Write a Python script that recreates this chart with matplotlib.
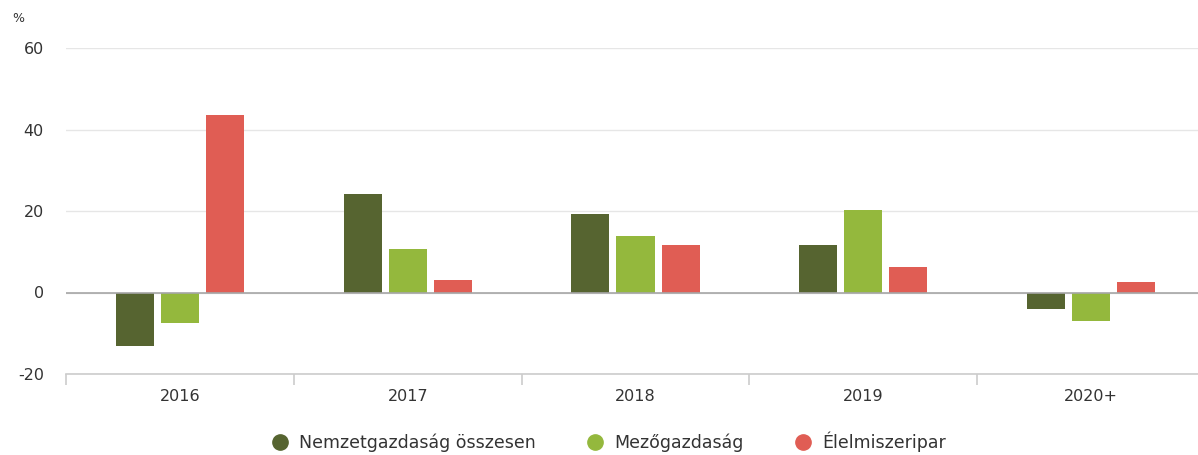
import numpy as np
import matplotlib
matplotlib.use("Agg")
import matplotlib.pyplot as plt
from matplotlib.lines import Line2D

# data
years = ["2016", "2017", "2018", "2019", "2020+"]
nemzetgazdasag = [-13.1, 24.1, 19.2, 11.6, -4.1]
mezogazdasag = [-7.6, 10.6, 13.8, 20.2, -6.9]
elelmiszeripar = [43.5, 3.0, 11.6, 6.2, 2.6]

series_names = ["Nemzetgazdaság összesen", "Mezőgazdaság", "Élelmiszeripar"]
colors = ["#566430", "#94b83d", "#e05d54"]

plt.rcParams["font.family"] = ["DejaVu Sans"]
plt.rcParams["axes.unicode_minus"] = False

fig = plt.figure(figsize=(11.98, 4.55), dpi=100)
# plot area runs a little past the right edge of the picture
ax = fig.add_axes([66 / 1198, 1 - 374 / 455, (1205 - 66) / 1198, (374 - 48) / 455])

x = np.arange(len(years))
bar_width = 0.167
offset = 0.198
for i, (vals, col) in enumerate(zip([nemzetgazdasag, mezogazdasag, elelmiszeripar], colors)):
    ax.bar(x + (i - 1) * offset, vals, bar_width, color=col, zorder=3)

ax.set_xlim(-0.5, len(years) - 0.5)
ax.set_ylim(-20, 60)
ax.set_yticks([-20, 0, 20, 40, 60])
ax.grid(axis="y", color="#e6e6e6", linewidth=1, zorder=0)
ax.axhline(0, color="#a6a6a6", linewidth=1.2, zorder=4)

for s in ["top", "right", "left"]:
    ax.spines[s].set_visible(False)
ax.spines["bottom"].set_color("#cccccc")
ax.spines["bottom"].set_linewidth(1.2)

ax.set_xticks(x)
ax.set_xticklabels(years)
ax.set_xticks(np.arange(-0.5, len(years), 1), minor=True)
ax.tick_params(axis="x", which="major", length=0, pad=11, labelsize=11.5, labelcolor="#333333")
ax.tick_params(axis="x", which="minor", length=8, color="#cccccc", width=1.2)
ax.tick_params(axis="y", length=0, pad=16, labelsize=11.5, labelcolor="#333333")

fig.text(12 / 1198, 1 - 18 / 455, "%", fontsize=9, color="#333333", va="center")

handles = [Line2D([0], [0], marker="o", linestyle="", markersize=11,
                  markerfacecolor=c, markeredgecolor=c) for c in colors]
fig.legend(handles, series_names, loc="center", bbox_to_anchor=(0.508, 1 - 442 / 455),
           ncol=3, frameon=False, fontsize=12.5, handlelength=1.0, handletextpad=0.6,
           columnspacing=2.9, labelcolor="#333333")

fig.savefig("out.png", dpi=100)
